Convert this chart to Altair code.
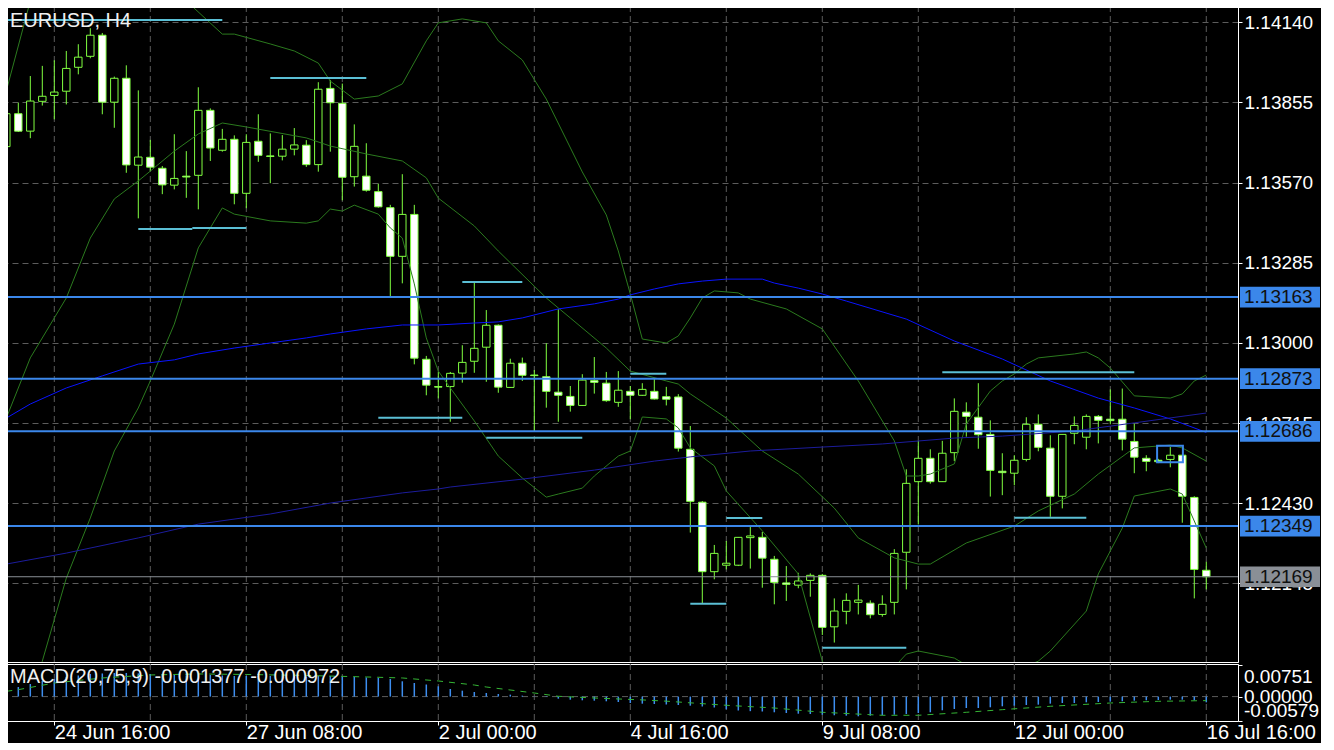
import altair as alt
import pandas as pd

# ------------------------------------------------------------------ data
idx = list(range(101))
opens = [1.13698,1.13815,1.13753,1.13859,1.13880,1.13895,1.13980,1.14019,1.14094,1.13856,
         1.13941,1.13632,1.13660,1.13621,1.13561,1.13593,1.13596,1.13827,1.13685,1.13724,
         1.13532,1.13717,1.13665,1.13664,1.13689,1.13703,1.13634,1.13905,1.13852,1.13591,
         1.13593,1.13538,1.13481,1.13308,1.13457,1.12942,1.12845,1.12845,1.12893,1.12935,
         1.12985,1.13063,1.12842,1.12928,1.12886,1.12880,1.12825,1.12810,1.12778,1.12866,
         1.12857,1.12789,1.12828,1.12814,1.12828,1.12809,1.12808,1.12622,1.12434,1.12187,
         1.12210,1.12210,1.12308,1.12309,1.12231,1.12147,1.12139,1.12156,1.12174,1.11991,
         1.12046,1.12078,1.12075,1.12035,1.12078,1.12256,1.12507,1.12590,1.12507,1.12610,
         1.12754,1.12736,1.12675,1.12544,1.12537,1.12586,1.12711,1.12626,1.12455,1.12679,
         1.12665,1.12739,1.12729,1.12729,1.12650,1.12590,1.12583,1.12586,1.12601,1.12451,
         1.12192]
highs = [1.13832,1.13854,1.13949,1.13985,1.14005,1.14038,1.14062,1.14119,1.14102,1.13947,
         1.13987,1.13898,1.13722,1.13629,1.13742,1.13682,1.13909,1.13834,1.13761,1.13738,
         1.13742,1.13813,1.13745,1.13739,1.13764,1.13721,1.13927,1.13935,1.13922,1.13777,
         1.13710,1.13566,1.13491,1.13600,1.13491,1.12954,1.12897,1.12897,1.12992,1.13214,
         1.13117,1.13066,1.12944,1.12948,1.12904,1.12999,1.13120,1.12847,1.12889,1.12950,
         1.12897,1.12900,1.12847,1.12857,1.12874,1.12844,1.12818,1.12705,1.12438,1.12282,
         1.12296,1.12310,1.12347,1.12328,1.12243,1.12207,1.12183,1.12181,1.12179,1.12092,
         1.12110,1.12140,1.12085,1.12103,1.12267,1.12551,1.12652,1.12622,1.12652,1.12803,
         1.12789,1.12857,1.12725,1.12608,1.12601,1.12736,1.12746,1.12672,1.12675,1.12739,
         1.12746,1.12744,1.12835,1.12838,1.12714,1.12601,1.12588,1.12630,1.12602,1.12455,
         1.12222]
lows = [1.13690,1.13750,1.13728,1.13844,1.13795,1.13848,1.13955,1.14012,1.13813,1.13765,
        1.13605,1.13443,1.13611,1.13529,1.13546,1.13516,1.13475,1.13647,1.13680,1.13493,
        1.13479,1.13644,1.13568,1.13649,1.13667,1.13626,1.13609,1.13680,1.13507,1.13556,
        1.13538,1.13481,1.13165,1.13212,1.12924,1.12814,1.12803,1.12720,1.12859,1.12894,
        1.12862,1.12823,1.12840,1.12865,1.12687,1.12770,1.12720,1.12756,1.12776,1.12820,
        1.12791,1.12773,1.12729,1.12812,1.12799,1.12778,1.12614,1.12326,1.12075,1.12160,
        1.12195,1.12207,1.12198,1.12130,1.12071,1.12083,1.12128,1.12098,1.11962,1.11935,
        1.12000,1.12035,1.12021,1.12027,1.12035,1.12124,1.12355,1.12500,1.12506,1.12580,
        1.12667,1.12624,1.12454,1.12459,1.12494,1.12579,1.12615,1.12382,1.12412,1.12640,
        1.12622,1.12643,1.12711,1.12618,1.12537,1.12544,1.12573,1.12558,1.12361,1.12092,
        1.12124]
closes = [1.13815,1.13753,1.13860,1.13877,1.13892,1.13976,1.14016,1.14094,1.13856,1.13941,
          1.13633,1.13661,1.13625,1.13562,1.13585,1.13590,1.13827,1.13693,1.13724,1.13532,
          1.13713,1.13667,1.13663,1.13689,1.13704,1.13634,1.13902,1.13854,1.13589,1.13699,
          1.13543,1.13484,1.13308,1.13457,1.12946,1.12850,1.12843,1.12892,1.12931,1.12981,
          1.13063,1.12843,1.12928,1.12885,1.12884,1.12828,1.12814,1.12778,1.12868,1.12860,
          1.12795,1.12832,1.12814,1.12835,1.12801,1.12800,1.12626,1.12437,1.12187,1.12252,
          1.12217,1.12309,1.12314,1.12235,1.12149,1.12142,1.12154,1.12174,1.11989,1.12047,
          1.12085,1.12086,1.12034,1.12071,1.12252,1.12501,1.12590,1.12507,1.12608,1.12757,
          1.12739,1.12674,1.12547,1.12539,1.12583,1.12711,1.12629,1.12455,1.12675,1.12707,
          1.12739,1.12725,1.12724,1.12658,1.12594,1.12579,1.12578,1.12601,1.12455,1.12195,
          1.12169]

# Bollinger bands (read at sample bars)
bb_up_i = [0,2,5,7,9,11,12,14,15,18,19,22,24,26,27,29,31,33,35,36,38,40,41,43,45,48,50,51,52,53,
           55,56,57,58,59,61,62,65,68,71,74,75,76,77,79,80,82,83,84,85,86,89,90,91,92,94,97,98,99,100]
bb_up_v = [1.13896,1.14216,1.14273,1.14369,1.14393,1.14383,1.14358,1.14297,1.14216,1.14098,
           1.14098,1.14063,1.14038,1.13995,1.13931,1.13867,1.13878,1.13921,1.14074,1.14138,
           1.14152,1.14138,1.14074,1.14006,1.13867,1.13608,1.13455,1.13327,1.13174,1.13014,
           1.13000,1.13025,1.13089,1.13160,1.13185,1.13178,1.13156,1.13121,1.13050,1.12865,
           1.12652,1.12527,1.12527,1.12534,1.12570,1.12712,1.12829,1.12865,1.12890,1.12925,
           1.12947,1.12961,1.12968,1.12947,1.12911,1.12812,1.12804,1.12819,1.12865,1.12886]
bb_mid_i = [0,2,5,7,9,11,12,14,16,18,20,25,27,30,33,35,36,39,41,45,47,50,52,55,56,57,60,63,66,69,
            71,74,76,77,80,84,86,89,91,94,97,98,100]
bb_mid_v = [1.12733,1.12947,1.13160,1.13373,1.13512,1.13576,1.13611,1.13682,1.13743,1.13782,
            1.13768,1.13729,1.13700,1.13672,1.13647,1.13587,1.13515,1.13416,1.13327,1.13160,
            1.13089,1.12982,1.12900,1.12865,1.12854,1.12819,1.12733,1.12616,1.12534,1.12413,
            1.12307,1.12236,1.12214,1.12214,1.12289,1.12349,1.12403,1.12463,1.12534,1.12627,
            1.12637,1.12627,1.12580]
bb_lo_i = [0,2,3,5,7,9,11,12,14,16,18,19,22,25,26,27,28,29,31,32,33,34,35,36,37,39,41,43,45,46,
           48,49,51,52,53,55,56,57,59,60,63,66,68,69,71,74,75,76,79,80,83,86,87,90,91,93,94,97,98,100]
bb_lo_v = [1.11571,1.11677,1.11869,1.12164,1.12378,1.12616,1.12769,1.12865,1.13067,1.13338,
           1.13480,1.13458,1.13434,1.13426,1.13434,1.13476,1.13469,1.13490,1.13458,1.13409,
           1.13373,1.13210,1.13018,1.12900,1.12840,1.12723,1.12598,1.12520,1.12452,1.12463,
           1.12484,1.12527,1.12598,1.12616,1.12737,1.12730,1.12698,1.12627,1.12563,1.12474,
           1.12332,1.12179,1.11869,1.11802,1.11749,1.11848,1.11894,1.11905,1.11880,1.11855,
           1.11813,1.11869,1.11905,1.12047,1.12179,1.12342,1.12456,1.12481,1.12463,1.12271]

# moving averages
ma_fast_i = [0,2,5,8,11,14,16,19,22,25,27,30,33,36,39,41,43,46,49,51,52,54,56,58,60,63,64,66,68,70,
             75,79,83,87,91,94,97,100]
ma_fast_v = [1.12733,1.12783,1.12840,1.12883,1.12925,1.12940,1.12961,1.12982,1.13000,1.13018,
             1.13032,1.13050,1.13064,1.13064,1.13071,1.13075,1.13089,1.13121,1.13139,1.13156,
             1.13171,1.13192,1.13210,1.13220,1.13227,1.13227,1.13213,1.13195,1.13174,1.13149,
             1.13085,1.13007,1.12943,1.12865,1.12804,1.12769,1.12730,1.12682]
ma_slow_i = [0,5,11,16,22,27,33,36,37,43,49,54,57,62,68,73,79,83,89,94,100]
ma_slow_v = [1.12214,1.12253,1.12307,1.12356,1.12392,1.12431,1.12467,1.12481,1.12488,1.12516,
             1.12548,1.12580,1.12595,1.12616,1.12630,1.12641,1.12662,1.12669,1.12687,1.12716,
             1.12751]

# horizontal levels
levels = [1.13163, 1.12873, 1.12686, 1.12349]
bid = 1.12169

# short support / resistance segments
seg_i0 = [0, 22, 11, 15.5, 38, 31, 40, 52, 60, 57, 68, 78, 84]
seg_i1 = [18, 30, 15.5, 20, 43, 38, 48, 55, 63, 60, 75, 94, 90]
seg_p = [1.14148, 1.13942, 1.13405, 1.13409, 1.13217, 1.12734, 1.12663, 1.12891,
         1.12378, 1.12073, 1.11917, 1.12896, 1.12379]

# highlighted box
box_i0, box_i1 = 95.9, 98.05
box_hi, box_lo = 1.12635, 1.12576

# MACD
macd_vals = [0.00158,0.00230,0.00302,0.00375,0.00423,0.00471,0.00507,0.00543,0.00555,0.00567,
             0.00567,0.00555,0.00543,0.00531,0.00519,0.00507,0.00519,0.00519,0.00507,0.00495,
             0.00495,0.00495,0.00495,0.00495,0.00495,0.00483,0.00495,0.00495,0.00483,0.00471,
             0.00459,0.00447,0.00423,0.00367,0.00326,0.00290,0.00247,0.00182,0.00142,0.00110,
             0.00086,0.00062,0.00046,0.00022,0.00007,-0.00010,-0.00050,-0.00074,-0.00089,-0.00098,
             -0.00113,-0.00130,-0.00154,-0.00170,-0.00178,-0.00190,-0.00202,-0.00218,-0.00238,-0.00262,
             -0.00305,-0.00334,-0.00350,-0.00358,-0.00377,-0.00394,-0.00411,-0.00418,-0.00435,-0.00449,
             -0.00459,-0.00473,-0.00459,-0.00449,-0.00435,-0.00418,-0.00394,-0.00377,-0.00329,-0.00298,
             -0.00274,-0.00274,-0.00257,-0.00233,-0.00218,-0.00202,-0.00194,-0.00170,-0.00154,-0.00154,
             -0.00137,-0.00130,-0.00122,-0.00113,-0.00098,-0.00089,-0.00082,-0.00074,-0.00074,-0.00089,
             -0.001377]
sig_i = [0,1,4,8,12,16,20,25,30,33,36,39,40,44,46,49,53,55,57,60,64,68,73,76,80,83,87,92,96,100]
sig_v = [0.00127,0.00166,0.00326,0.00447,0.00519,0.00543,0.00531,0.00507,0.00471,0.00447,
         0.00375,0.00278,0.00230,0.00086,0.00007,-0.00034,-0.00080,-0.00110,-0.00150,-0.00209,
         -0.00274,-0.00377,-0.00449,-0.00449,-0.00377,-0.00314,-0.00233,-0.00154,-0.00113,-0.000972]

# axes
y_ticks = [1.14140, 1.13855, 1.13570, 1.13285, 1.13000, 1.12715, 1.12430, 1.12145]
macd_ticks = [0.00751, 0.0, -0.00579]
macd_tick_text = ["0.00751", "0.00000", "-0.00579"]
grid_idx = [4, 12, 20, 28, 36, 44, 52, 60, 68, 76, 84, 92, 100]
x_tick_idx = [4, 20, 36, 52, 68, 84, 100]
x_tick_lab = ["24 Jun 16:00", "27 Jun 08:00", "2 Jul 00:00", "4 Jul 16:00",
              "9 Jul 08:00", "12 Jul 00:00", "16 Jul 16:00"]
symbol_title = "EURUSD, H4"

# ------------------------------------------------------------------ style
FONT = "Liberation Sans"
FG = "#ffffff"
GRID = "#5c5c5c"
LIME = "#80ff40"
BB = "#2b7a1e"
BLUE_MA = "#0a14ff"
NAVY_MA = "#1c1c9c"
LEVEL = "#3b87ea"
CYAN = "#5bbfd5"
BIDC = "#8a8f96"

W = 1231
H_MAIN = 656
H_MACD = 57
X_DOM = [0.058, 102.642]
Y_DOM = [1.118659, 1.141979]
M_DOM = [-0.005862, 0.007822]
BOX_HALF = 0.000368
M_PX = (M_DOM[1] - M_DOM[0]) / H_MACD      # MACD units per pixel
M_LAB_SHIFT = [12, 0, -10]                   # label offsets (px) from their ticks

xs = alt.Scale(domain=X_DOM, nice=False, zero=False)
ys = alt.Scale(domain=Y_DOM, nice=False, zero=False)
ms = alt.Scale(domain=M_DOM, nice=False, zero=False)

yax = alt.Axis(orient="right", values=y_ticks, format=".5f", grid=True, gridColor=GRID,
               gridDash=[6, 4], gridWidth=1, domain=True, domainColor=FG, ticks=True,
               tickColor=FG, tickSize=4, labelColor=FG, labelFont=FONT, labelFontSize=19,
               labelPadding=2, labelOverlap=False, labelBound=False, labelFlush=False,
               title=None, zindex=0)
myax = alt.Axis(orient="right", values=macd_ticks, grid=False, domain=True, domainColor=FG,
                ticks=True, tickColor=FG, tickSize=4, labels=False, title=None, zindex=0)
lab_expr = " : ".join(f"datum.value == {v} ? '{t}'" for v, t in zip(x_tick_idx, x_tick_lab)) + " : ''"
xax = alt.Axis(values=x_tick_idx, labelExpr=lab_expr, labelAlign="left", labelBaseline="top",
               labelPadding=-3, tickSize=4, tickColor=FG, domain=False, grid=False,
               labelColor=FG, labelFont=FONT, labelFontSize=20, labelOverlap=False,
               labelBound=False, labelFlush=False, title=None)

# ------------------------------------------------------------------ frames
candles = pd.DataFrame({"i": idx, "o": opens, "h": highs, "l": lows, "c": closes})
grid_df = pd.DataFrame({"g": grid_idx})
bands = pd.concat([
    pd.DataFrame({"i": bb_up_i, "v": bb_up_v, "s": "upper"}),
    pd.DataFrame({"i": bb_mid_i, "v": bb_mid_v, "s": "mid"}),
    pd.DataFrame({"i": bb_lo_i, "v": bb_lo_v, "s": "lower"}),
])
fast_df = pd.DataFrame({"i": ma_fast_i, "v": ma_fast_v})
slow_df = pd.DataFrame({"i": ma_slow_i, "v": ma_slow_v})
lev_df = pd.DataFrame({"p": levels, "t": [f"{p:.5f}" for p in levels]})
bid_df = pd.DataFrame({"p": [bid], "t": [f"{bid:.5f}"]})
seg_df = pd.DataFrame({"a": seg_i0, "b": seg_i1, "p": seg_p})
box_df = pd.DataFrame({"a": [box_i0], "b": [box_i1], "hi": [box_hi], "lo": [box_lo]})
macd_df = pd.DataFrame({"i": idx, "m": macd_vals})
sig_df = pd.DataFrame({"i": sig_i, "s": sig_v})
mlab_df = pd.DataFrame({"v": macd_ticks, "t": macd_tick_text, "off": M_LAB_SHIFT})
one = pd.DataFrame({"t": [symbol_title]})
macd_txt = pd.DataFrame({"t": [f"MACD(20,75,9) {macd_vals[-1]:.6f} {sig_v[-1]:.6f}"]})

X = lambda f: alt.X(f, scale=xs, axis=None)
Y = lambda f: alt.Y(f, scale=ys, axis=yax)

vgrid = alt.Chart(grid_df).mark_rule(color=GRID, strokeDash=[6, 4], strokeWidth=1).encode(x=X("g:Q"))
wicks = alt.Chart(candles).mark_rule(color=LIME, strokeWidth=1, clip=True).encode(
    x=X("i:Q"), y=Y("h:Q"), y2="l:Q")
bodies = alt.Chart(candles).transform_calculate(
    x0="datum.i - 0.31", x1="datum.i + 0.31"
).mark_rect(stroke=LIME, strokeWidth=1, clip=True).encode(
    x=X("x0:Q"), x2="x1:Q", y=Y("o:Q"), y2="c:Q",
    fill=alt.condition("datum.c >= datum.o", alt.value("#000000"), alt.value("#ffffff")))
bb_lines = alt.Chart(bands).mark_line(color=BB, strokeWidth=1, clip=True).encode(
    x=X("i:Q"), y=Y("v:Q"), detail="s:N")
fast = alt.Chart(fast_df).mark_line(color=BLUE_MA, strokeWidth=1, clip=True).encode(x=X("i:Q"), y=Y("v:Q"))
slow = alt.Chart(slow_df).mark_line(color=NAVY_MA, strokeWidth=1, clip=True).encode(x=X("i:Q"), y=Y("v:Q"))
lev = alt.Chart(lev_df).mark_rule(color=LEVEL, strokeWidth=2).encode(y=Y("p:Q"))
bidline = alt.Chart(bid_df).mark_rule(color=BIDC, strokeWidth=1).encode(y=Y("p:Q"))
segs = alt.Chart(seg_df).mark_rule(color=CYAN, strokeWidth=2, clip=True).encode(
    x=X("a:Q"), x2="b:Q", y=Y("p:Q"))
box = alt.Chart(box_df).mark_rect(filled=False, stroke=LEVEL, strokeWidth=2).encode(
    x=X("a:Q"), x2="b:Q", y=Y("hi:Q"), y2="lo:Q")
lev_box = alt.Chart(lev_df).transform_calculate(
    top=f"datum.p + {BOX_HALF}", bot=f"datum.p - {BOX_HALF}"
).mark_rect(color=LEVEL).encode(x=alt.value(W + 2), x2=alt.value(W + 82), y=Y("top:Q"), y2="bot:Q")
lev_txt = alt.Chart(lev_df).mark_text(align="left", baseline="middle", font=FONT, fontSize=19,
                                      color="#101010").encode(x=alt.value(W + 6), y=Y("p:Q"), text="t:N")
bid_box = alt.Chart(bid_df).transform_calculate(
    top=f"datum.p + {BOX_HALF}", bot=f"datum.p - {BOX_HALF}"
).mark_rect(color=BIDC).encode(x=alt.value(W + 2), x2=alt.value(W + 82), y=Y("top:Q"), y2="bot:Q")
bid_txt = alt.Chart(bid_df).mark_text(align="left", baseline="middle", font=FONT, fontSize=19,
                                      color="#101010").encode(x=alt.value(W + 6), y=Y("p:Q"), text="t:N")
title_txt = alt.Chart(one).mark_text(align="left", baseline="alphabetic", font=FONT, fontSize=20,
                                     color="#f0f0f0").encode(x=alt.value(3), y=alt.value(21), text="t:N")

main = alt.layer(vgrid, wicks, bodies, bb_lines, fast, slow, lev, bidline, segs, box,
                 lev_box, lev_txt, bid_box, bid_txt, title_txt).properties(width=W, height=H_MAIN)

XM = lambda f: alt.X(f, scale=xs, axis=xax)
YM = lambda f: alt.Y(f, scale=ms, axis=myax)
mgrid = alt.Chart(grid_df).mark_rule(color=GRID, strokeDash=[6, 4], strokeWidth=1).encode(x=XM("g:Q"))
zero = alt.Chart(pd.DataFrame({"z": [0.0]})).mark_rule(color=GRID, strokeDash=[6, 4], strokeWidth=1).encode(y=YM("z:Q"))
hist = alt.Chart(macd_df).mark_rule(color="#3d8ef0", strokeWidth=1.5, clip=True).encode(
    x=XM("i:Q"), y=YM("m:Q"), y2=alt.datum(0))
sig = alt.Chart(sig_df).mark_line(color="#35b535", strokeWidth=1, strokeDash=[6, 6], clip=True).encode(
    x=XM("i:Q"), y=YM("s:Q"))
mlabs = alt.Chart(mlab_df).transform_calculate(
    yp=f"datum.v - datum.off * {M_PX}"
).mark_text(align="left", baseline="middle", font=FONT, fontSize=19, color=FG).encode(
    x=alt.value(W + 6), y=YM("yp:Q"), text="t:N")
mtxt = alt.Chart(macd_txt).mark_text(align="left", baseline="alphabetic", font=FONT, fontSize=20,
                                     color="#f0f0f0").encode(x=alt.value(3), y=alt.value(19), text="t:N")
macd = alt.layer(mgrid, zero, hist, sig, mlabs, mtxt).properties(width=W, height=H_MACD)

chart = alt.vconcat(main, macd, spacing=0).properties(
    padding={"left": -3, "top": -3, "right": 0, "bottom": 0},
    usermeta={"embedOptions": {"defaultStyle": "body{margin:0;background:#000000;}"}},
).configure(background="#000000").configure_view(stroke=FG, strokeWidth=1, fill="#000000")

chart.save("out.html", embed_options={"renderer": "svg", "actions": False})
